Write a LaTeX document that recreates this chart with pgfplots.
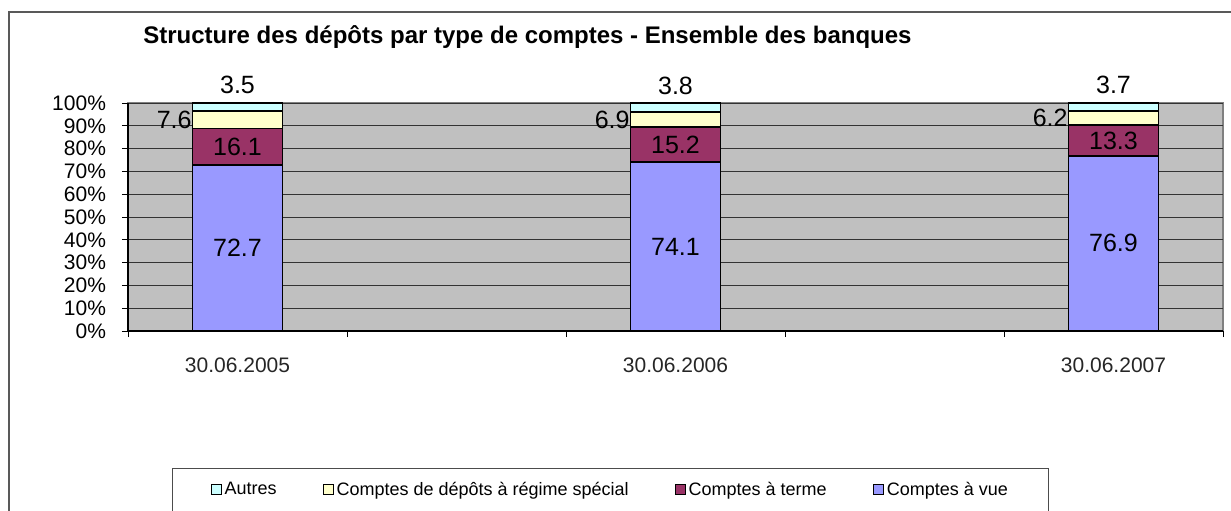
\documentclass[border=0pt]{standalone}
\usepackage{pgfplots}
\usepackage{pgfplotstable}
\pgfplotsset{compat=1.18}
\usepackage{fontspec}
\setmainfont{Liberation Sans}
\definecolor{cvue}{HTML}{9999FF}
\definecolor{cterme}{HTML}{993366}
\definecolor{cspecial}{HTML}{FFFFCC}
\definecolor{cautres}{HTML}{CCFFFF}
\definecolor{plotgray}{HTML}{C0C0C0}

% x: 0, 2, 4 are the three dates (1 and 3 are empty categories)
\pgfplotstableread{
x vue terme special autres
0 72.7 16.1 7.6 3.5
2 74.1 15.2 6.9 3.8
4 76.9 13.3 6.2 3.7
}\depots

\begin{document}
\begin{tikzpicture}
\useasboundingbox (0,0) rectangle (615.5pt,255pt);
% chart frame (only left and top edges are visible)
\draw[black!65, line width=0.6pt] (4.5pt,-5pt) -- (4.5pt,249pt) -- (625pt,249pt);
\node[anchor=west, inner sep=0pt, font=\bfseries\fontsize{12}{14}\selectfont]
  at (71.5pt,236.5pt) {Structure des dépôts par type de comptes - Ensemble des banques};
\begin{axis}[
  at={(64pt,89.5pt)}, anchor=south west,
  scale only axis, width=547.5pt, height=114pt,
  ybar stacked, bar width=45pt,
  clip=false,
  /pgf/number format/assume math mode=true,
  xmin=-0.5, xmax=4.5, ymin=0, ymax=100,
  xtick={-0.5,0.5,1.5,2.5,3.5,4.5}, xticklabels={},
  extra x ticks={0,2,4},
  extra x tick labels={30.06.2005,30.06.2006,30.06.2007},
  extra x tick style={major tick length=0pt, grid=none,
    tick label style={yshift=-10pt, text=black!85}},
  ytick={0,10,...,100},
  yticklabel={\pgfmathprintnumber{\tick}\%},
  yticklabel style={xshift=-4.5pt},
  tick label style={font=\fontsize{10.5}{12}\selectfont},
  tick align=outside, major tick length=3pt,
  tick style={black, line width=0.5pt},
  axis x line*=bottom, axis y line*=left,
  axis line style={black, line width=0.6pt},
  axis background/.style={fill=plotgray, draw=black!50, line width=0.6pt},
  ymajorgrids, grid style={black!80, line width=0.5pt},
  nodes near coords={\pgfmathprintnumber[fixed,precision=1,fixed zerofill]{\seg}},
  every node near coord/.append style={font=\fontsize{12.5}{14}\selectfont, text=black},
  reverse legend,
  legend columns=4,
  legend image code/.code={\draw[#1, draw=black, line width=0.5pt] (0pt,-2.5pt) rectangle (5pt,2.5pt);},
  legend style={at={(0.0402,-0.697)}, anchor=west, draw=black!70, line width=0.5pt,
    inner xsep=19pt, inner ysep=5pt, font=\fontsize{9}{11}\selectfont,
    nodes={inner sep=1.5pt},
    /tikz/every even column/.append style={column sep=21.5pt}, cells={anchor=west}},
]
% stacked labels already sit at mid-segment, only the anchor is changed
\addplot[fill=cvue, draw=black, line width=0.9pt,
  visualization depends on={\thisrow{vue} \as \seg},
  every node near coord/.append style={anchor=center}]
  table[x=x, y=vue] {\depots};
\addlegendentry{Comptes à vue}
\addplot[fill=cterme, draw=black, line width=0.9pt,
  visualization depends on={\thisrow{terme} \as \seg},
  every node near coord/.append style={anchor=center}]
  table[x=x, y=terme] {\depots};
\addlegendentry{Comptes à terme}
\addplot[fill=cspecial, draw=black, line width=0.9pt,
  visualization depends on={\thisrow{special} \as \seg},
  every node near coord/.append style={anchor=east, inner sep=1pt, xshift=-21.5pt}]
  table[x=x, y=special] {\depots};
\addlegendentry{Comptes de dépôts à régime spécial}
\addplot[fill=cautres, draw=black, line width=0.9pt,
  visualization depends on={\thisrow{autres} \as \seg},
  every node near coord/.append style={anchor=south, yshift=2.75pt}]
  table[x=x, y=autres] {\depots};
\addlegendentry{Autres}
\end{axis}
\end{tikzpicture}
\end{document}
